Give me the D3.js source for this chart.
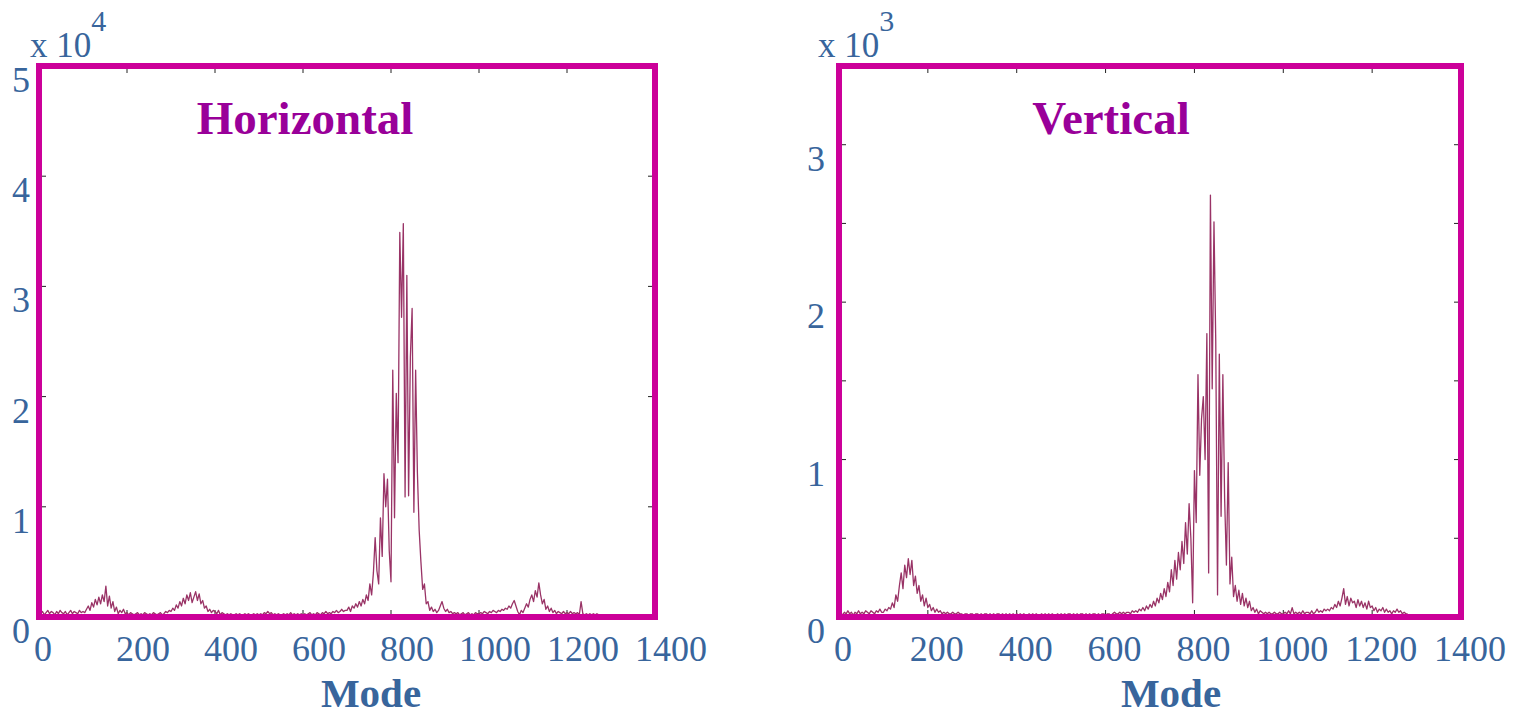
<!DOCTYPE html>
<html>
<head>
<meta charset="utf-8">
<script src="https://cdn.jsdelivr.net/npm/d3@7"></script>
<style>
  html, body { margin: 0; padding: 0; background: #ffffff; }
  svg { display: block; }
  text { font-family: "Liberation Serif", "Times New Roman", serif; }
</style>
</head>
<body>
<svg id="chart" width="1533" height="717"></svg>
<script>
// Mode numbers sampled every 4 modes
const modes = d3.range(0, 1281, 4);

// Horizontal spectrum, in units of 10^4
const horizontal = [
  0.04,0.03,0.05,0.02,0.04,0.06,0.03,0.05,0.04,0.02,0.05,0.03,0.06,0.04,0.03,0.05,0.02,0.04,0.06,0.03,0.05,0.04,0.03,0.06,0.04,
  0.05,0.04,0.07,0.10,0.06,0.13,0.09,0.16,0.11,0.18,0.12,0.20,0.14,0.28,0.10,0.19,0.08,0.14,0.05,0.09,0.03,0.06,0.04,0.07,0.03,
  0.04,0.02,0.04,0.03,0.02,0.03,0.04,0.02,0.03,0.02,0.04,0.03,0.02,0.03,0.02,0.04,0.03,0.02,0.03,0.04,0.02,0.03,0.05,0.04,0.06,
  0.05,0.08,0.06,0.11,0.08,0.14,0.10,0.17,0.12,0.20,0.15,0.22,0.13,0.18,0.23,0.15,0.21,0.12,0.15,0.08,0.10,0.05,0.07,0.04,0.06,
  0.05,0.03,0.06,0.02,0.04,0.03,0.02,0.03,0.02,0.03,0.02,0.02,0.03,0.02,0.03,0.02,0.02,0.03,0.02,0.03,0.02,0.02,0.03,0.02,0.03,
  0.02,0.03,0.02,0.04,0.03,0.05,0.03,0.04,0.02,0.03,0.02,0.03,0.02,0.02,0.03,0.02,0.03,0.02,0.04,0.02,0.03,0.02,0.03,0.02,0.03,
  0.02,0.03,0.02,0.03,0.04,0.02,0.03,0.02,0.04,0.03,0.02,0.04,0.03,0.05,0.03,0.04,0.03,0.05,0.04,0.06,0.04,0.05,0.07,0.05,0.06,
  0.06,0.09,0.05,0.10,0.08,0.12,0.09,0.14,0.10,0.16,0.12,0.20,0.15,0.30,0.20,0.40,0.72,0.42,0.30,0.90,0.55,1.30,1.00,1.25,0.60,
  0.32,2.24,0.90,2.03,1.40,3.49,2.72,3.57,1.09,3.10,1.10,2.36,2.80,0.95,2.24,1.31,0.79,0.50,0.25,0.30,0.12,0.14,0.06,0.09,0.05,
  0.07,0.04,0.06,0.10,0.14,0.08,0.05,0.07,0.04,0.05,0.03,0.04,0.03,0.04,0.02,0.03,0.04,0.02,0.03,0.04,0.02,0.03,0.02,0.04,0.03,
  0.03,0.04,0.03,0.05,0.04,0.03,0.05,0.04,0.06,0.05,0.04,0.06,0.05,0.07,0.06,0.08,0.07,0.10,0.08,0.12,0.15,0.10,0.05,0.02,0.06,
  0.04,0.08,0.12,0.09,0.16,0.20,0.14,0.24,0.18,0.31,0.20,0.12,0.16,0.07,0.10,0.05,0.08,0.04,0.06,0.03,0.05,0.04,0.03,0.05,0.03,
  0.04,0.03,0.05,0.03,0.04,0.03,0.04,0.02,0.14,0.03,0.02,0.03,0.02,0.03,0.02,0.03,0.02,0.03,0.02,0.02,0.02
];

// Vertical spectrum, in units of 10^3
const vertical = [
  0.02,0.03,0.01,0.03,0.02,0.04,0.02,0.03,0.01,0.03,0.02,0.04,0.02,0.03,0.02,0.04,0.03,0.02,0.04,0.03,0.02,0.04,0.03,0.05,0.03,
  0.03,0.05,0.04,0.06,0.05,0.09,0.06,0.14,0.10,0.20,0.28,0.18,0.33,0.25,0.37,0.27,0.36,0.20,0.26,0.15,0.20,0.10,0.14,0.07,0.12,
  0.06,0.08,0.04,0.06,0.03,0.05,0.03,0.04,0.02,0.03,0.02,0.03,0.02,0.02,0.03,0.02,0.02,0.03,0.02,0.02,0.01,0.02,0.02,0.01,0.02,
  0.02,0.01,0.02,0.02,0.01,0.02,0.01,0.02,0.02,0.01,0.02,0.01,0.02,0.01,0.02,0.02,0.01,0.02,0.01,0.02,0.01,0.02,0.01,0.02,0.01,
  0.02,0.01,0.02,0.01,0.02,0.01,0.01,0.02,0.01,0.02,0.01,0.02,0.01,0.01,0.02,0.01,0.02,0.01,0.02,0.01,0.02,0.01,0.01,0.02,0.01,
  0.02,0.01,0.02,0.01,0.02,0.02,0.01,0.02,0.01,0.02,0.01,0.02,0.02,0.01,0.02,0.01,0.02,0.01,0.02,0.02,0.01,0.02,0.01,0.02,0.02,
  0.01,0.02,0.02,0.01,0.02,0.03,0.02,0.02,0.03,0.02,0.03,0.02,0.03,0.03,0.02,0.04,0.03,0.04,0.03,0.05,0.04,0.06,0.04,0.07,0.05,
  0.08,0.06,0.10,0.07,0.12,0.09,0.15,0.11,0.18,0.13,0.22,0.16,0.30,0.20,0.36,0.24,0.41,0.30,0.48,0.34,0.60,0.40,0.72,0.50,0.09,
  0.93,0.60,1.54,0.90,1.26,1.40,1.00,1.80,0.28,2.68,1.45,2.51,1.75,0.14,1.67,0.64,1.54,0.75,0.33,0.98,0.21,0.38,0.13,0.20,0.10,
  0.17,0.08,0.15,0.07,0.12,0.06,0.10,0.04,0.06,0.03,0.05,0.02,0.04,0.03,0.02,0.03,0.02,0.03,0.02,0.02,0.03,0.02,0.02,0.03,0.02,
  0.02,0.03,0.02,0.04,0.02,0.06,0.02,0.03,0.02,0.03,0.02,0.04,0.02,0.03,0.03,0.02,0.04,0.02,0.03,0.05,0.03,0.04,0.03,0.05,0.04,
  0.05,0.04,0.06,0.05,0.08,0.06,0.10,0.07,0.12,0.18,0.08,0.13,0.07,0.12,0.09,0.10,0.06,0.11,0.07,0.10,0.06,0.09,0.05,0.10,0.06,
  0.07,0.04,0.06,0.03,0.05,0.04,0.06,0.03,0.05,0.03,0.04,0.02,0.04,0.03,0.05,0.03,0.04,0.02,0.03,0.02,0.02
];

// Axis ticks and labels
const modeTicks = [0, 200, 400, 600, 800, 1000, 1200, 1400];
const horizontalTicks = [0, 1, 2, 3, 4, 5];
const verticalTicks = [0, 1, 2, 3];
const verticalMinorTicks = [0.5, 1.5, 2.5, 3.5];

const FRAME = "#cc0099";
const TRACE = "#993366";
const LABEL = "#38659c";
const TITLE = "#990099";

const svg = d3.select("#chart");

function panel(opt) {
  const g = svg.append("g");
  const x = d3.scaleLinear().domain([0, 1400]).range([opt.left, opt.right]);
  const y = d3.scaleLinear().domain([0, opt.yMax]).range([617, 66]);

  // inward tick marks on all four sides
  const ticks = g.append("g").attr("stroke", "#222").attr("stroke-width", 1);
  modeTicks.slice(1, -1).forEach(t => {
    ticks.append("line").attr("x1", x(t)).attr("x2", x(t)).attr("y1", y(0)).attr("y2", y(0) - 7);
    ticks.append("line").attr("x1", x(t)).attr("x2", x(t)).attr("y1", y(opt.yMax)).attr("y2", y(opt.yMax) + 7);
  });
  opt.yTicks.concat(opt.yMinor || []).filter(t => t > 0 && t < opt.yMax).forEach(t => {
    ticks.append("line").attr("x1", opt.left).attr("x2", opt.left + 7).attr("y1", y(t)).attr("y2", y(t));
    ticks.append("line").attr("x1", opt.right).attr("x2", opt.right - 7).attr("y1", y(t)).attr("y2", y(t));
  });

  // spectrum trace
  const line = d3.line().x((d, i) => x(modes[i])).y(d => y(d));
  g.append("path")
    .datum(opt.values)
    .attr("fill", "none")
    .attr("stroke", TRACE)
    .attr("stroke-width", 1.3)
    .attr("stroke-linejoin", "round")
    .attr("d", line);

  // frame
  g.append("rect")
    .attr("x", opt.left).attr("y", y(opt.yMax))
    .attr("width", x(1400) - x(0)).attr("height", y(0) - y(opt.yMax))
    .attr("fill", "none").attr("stroke", FRAME).attr("stroke-width", 6);

  // x tick labels
  g.append("g").selectAll("text").data(modeTicks).join("text")
    .attr("x", d => x(d) + (d === 0 ? 4 : opt.xLabelShift))
    .attr("y", 661)
    .attr("text-anchor", "middle")
    .attr("font-size", 36)
    .attr("fill", LABEL)
    .text(d => d);

  // y tick labels
  g.append("g").selectAll("text").data(opt.yTicks).join("text")
    .attr("x", opt.left - opt.yLabelGap)
    .attr("y", d => y(d) + 26)
    .attr("text-anchor", "end")
    .attr("font-size", 36)
    .attr("fill", LABEL)
    .text(d => d);

  // exponent multiplier
  const mult = g.append("text")
    .attr("x", opt.multX).attr("y", 57)
    .attr("font-size", 35)
    .attr("fill", LABEL);
  mult.append("tspan").text("x 10");
  mult.append("tspan").attr("dy", -26).attr("font-size", 30).text(opt.exponent);

  // axis title
  g.append("text")
    .attr("x", (opt.left + opt.right) / 2 + opt.modeShift).attr("y", 707)
    .attr("text-anchor", "middle")
    .attr("font-size", 41).attr("font-weight", "bold")
    .attr("fill", LABEL)
    .text("Mode");

  // panel title
  g.append("text")
    .attr("x", opt.titleX).attr("y", 134)
    .attr("text-anchor", "middle")
    .attr("font-size", 47).attr("font-weight", "bold")
    .attr("fill", TITLE)
    .text(opt.title);
}

panel({
  left: 39, right: 655, yMax: 5, yTicks: horizontalTicks, values: horizontal,
  xLabelShift: 16, yLabelGap: 9, multX: 30, exponent: "4",
  modeShift: 24, title: "Horizontal", titleX: 305
});

panel({
  left: 839, right: 1461, yMax: 3.5, yTicks: verticalTicks, yMinor: verticalMinorTicks, values: vertical,
  xLabelShift: 9, yLabelGap: 14, multX: 818, exponent: "3",
  modeShift: 21, title: "Vertical", titleX: 1111
});
</script>
</body>
</html>
